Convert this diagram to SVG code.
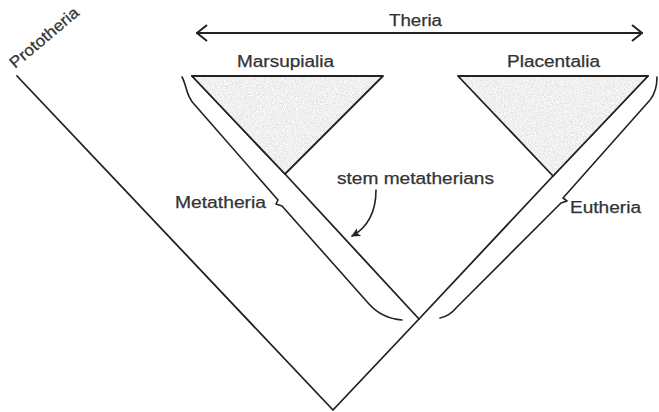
<svg xmlns="http://www.w3.org/2000/svg" width="659" height="412" viewBox="0 0 659 412">
<style>
  .ln{fill:none;stroke:#222;stroke-width:1.8;stroke-linecap:round;stroke-linejoin:round}
  .br{fill:none;stroke:#222;stroke-width:1.6;stroke-linecap:round;stroke-linejoin:round}
  .tri{fill:none;stroke:#222;stroke-width:1.8;stroke-linejoin:round}
  .lbl{font-family:"Liberation Sans",Arial,sans-serif;font-size:16px;fill:#333;stroke:#333;stroke-width:0.25}
</style>
<defs>
  <filter id="grain" x="0" y="0" width="100%" height="100%">
    <feTurbulence type="fractalNoise" baseFrequency="0.9" numOctaves="2" seed="4"/>
    <feColorMatrix type="matrix" values="0.5 0 0 0 0.62  0.5 0 0 0 0.62  0.5 0 0 0 0.62  0 0 0 0 1"/>
  </filter>
  <clipPath id="cm"><polygon points="192,76 383,76 285,174"/></clipPath>
  <clipPath id="cp"><polygon points="458,76 648,76 553,176"/></clipPath>
  <marker id="ah" viewBox="0 0 10 10" refX="9" refY="5" markerWidth="9" markerHeight="9" markerUnits="userSpaceOnUse" orient="auto">
    <path d="M0,0 L10,5 L0,10 L2.5,5 Z" fill="#222"/>
  </marker>
  <marker id="open" viewBox="0 0 12 18" refX="11" refY="9" markerWidth="12" markerHeight="18" markerUnits="userSpaceOnUse" orient="auto-start-reverse">
    <path d="M1,1 L11,9 L1,17" fill="none" stroke="#222" stroke-width="2"/>
  </marker>
</defs>
<rect width="659" height="412" fill="#fff"/>

<g id="connectors">
  <path class="ln" d="M17,76 L333,410 L419,319 L553,176"/>
  <path class="ln" d="M419,319 L285,174"/>
  <path class="ln" d="M553,176 L648,76"/>
  <path class="ln" d="M285,174 L192,76"/>
  <path class="ln" d="M197,33 L642,33" marker-start="url(#open)" marker-end="url(#open)"/>
  <path class="br" d="M376,190 C376,210 370,226 352,236" marker-end="url(#ah)"/>
</g>

<g id="marsupialia">
  <polygon points="192,76 383,76 285,174" fill="#dcdcdc" clip-path="url(#cm)" filter="url(#grain)"/>
  <polygon class="tri" points="192,76 383,76 285,174"/>
  <text class="lbl" x="237" y="67" textLength="97" lengthAdjust="spacingAndGlyphs">Marsupialia</text>
</g>

<g id="placentalia">
  <polygon points="458,76 648,76 553,176" fill="#dcdcdc" clip-path="url(#cp)" filter="url(#grain)"/>
  <polygon class="tri" points="458,76 648,76 553,176"/>
  <text class="lbl" x="507" y="67" textLength="93" lengthAdjust="spacingAndGlyphs">Placentalia</text>
</g>

<g id="theria">
  <text class="lbl" x="389" y="26" textLength="53" lengthAdjust="spacingAndGlyphs">Theria</text>
</g>

<g id="prototheria">
  <text class="lbl" transform="translate(15,69) rotate(-40)" x="0" y="0" textLength="85" lengthAdjust="spacingAndGlyphs">Prototheria</text>
</g>

<g id="metatheria">
  <path class="br" d="M182,77 C187,86 186,96 194,104 L278,200 L276,204 L282,206 L369,304 C378,314 390,319 402,320"/>
  <text class="lbl" x="175" y="208" textLength="91" lengthAdjust="spacingAndGlyphs">Metatheria</text>
</g>

<g id="eutheria">
  <path class="br" d="M657,77 C657,88 654,95 650,100 L563,198 L567,201 L561,203 L457,307 C452,313 446,317 440,318"/>
  <text class="lbl" x="570" y="213" textLength="71" lengthAdjust="spacingAndGlyphs">Eutheria</text>
</g>

<g id="stem-metatherians">
  <text class="lbl" x="337" y="184" textLength="157" lengthAdjust="spacingAndGlyphs">stem metatherians</text>
</g>
</svg>
